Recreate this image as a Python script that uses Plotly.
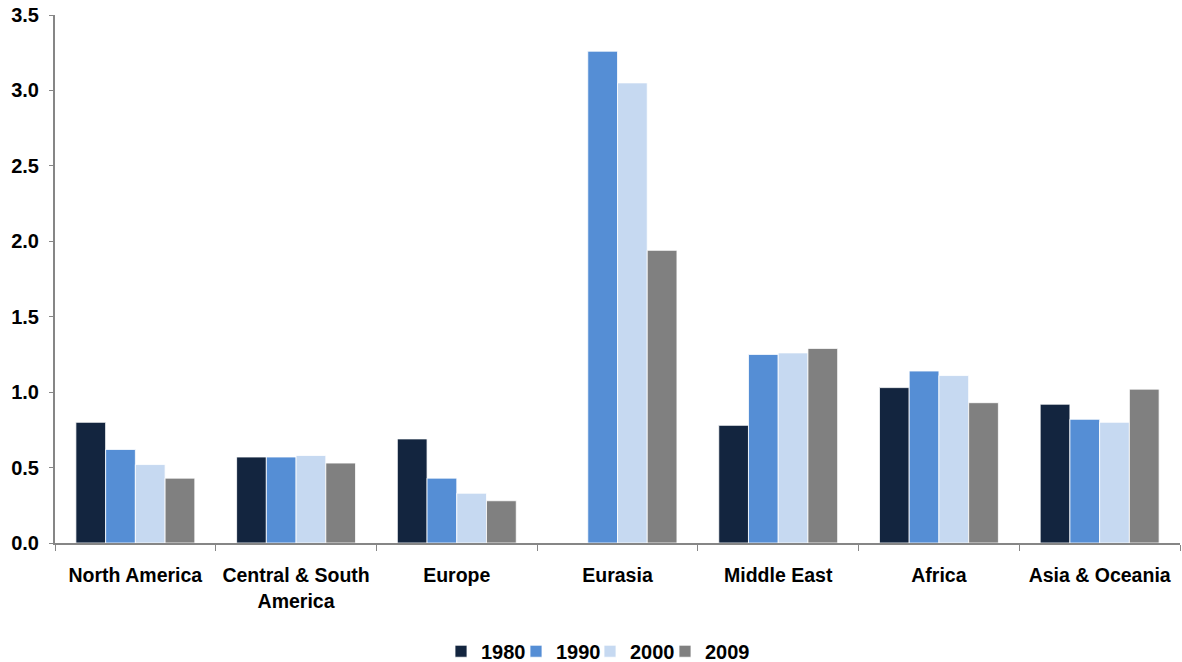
import plotly.graph_objects as go

categories = ["North America", "Central & South<br>America", "Europe", "Eurasia",
              "Middle East", "Africa", "Asia & Oceania"]
years = ["1980", "1990", "2000", "2009"]
v1980 = [0.80, 0.57, 0.69, 0.00, 0.78, 1.03, 0.92]
v1990 = [0.62, 0.57, 0.43, 3.26, 1.25, 1.14, 0.82]
v2000 = [0.52, 0.58, 0.33, 3.05, 1.26, 1.11, 0.80]
v2009 = [0.43, 0.53, 0.28, 1.94, 1.29, 0.93, 1.02]
colors = ["#13253F", "#558ED5", "#C6D9F1", "#808080"]

font_fam = "Liberation Sans, Arial, sans-serif"
legend_ids = ["legend", "legend2", "legend3", "legend4"]
legend_x_px = [441, 516, 590, 665]

fig = go.Figure()
for name, vals, c, lid in zip(years, [v1980, v1990, v2000, v2009], colors, legend_ids):
    fig.add_trace(go.Bar(x=categories, y=vals, name=name, marker_color=c,
                         marker_line_color="white", marker_line_width=0.8,
                         legend=lid))

layout_legends = {}
for lid, xp in zip(legend_ids, legend_x_px):
    layout_legends[lid] = dict(
        orientation="h", x=xp / 1182, xref="container", xanchor="left",
        y=-0.205, yref="paper", yanchor="middle",
        font=dict(family=font_fam, size=20, color="black", weight="bold"),
        itemwidth=30, bgcolor="rgba(0,0,0,0)")

fig.update_layout(
    width=1182, height=662,
    margin=dict(l=55, r=2, t=15, b=119, autoexpand=False),
    paper_bgcolor="white", plot_bgcolor="white",
    barmode="group", bargap=0.26, bargroupgap=0,
    font=dict(family=font_fam, size=19, color="black"),
    showlegend=True,
    **layout_legends,
)
fig.update_xaxes(showline=True, linecolor="#868686", linewidth=2,
                 ticks="outside", tickson="boundaries", ticklen=6, tickcolor="#868686",
                 ticklabelstandoff=14, automargin=False,
                 tickfont=dict(family=font_fam, size=19.5, color="black", weight="bold"),
                 showgrid=False)
fig.update_yaxes(range=[0, 3.5], dtick=0.5, tickformat=".1f", showline=True,
                 linecolor="#868686", linewidth=2, ticks="outside", ticklen=4,
                 tickcolor="#868686", showgrid=False, zeroline=False,
                 ticklabelstandoff=6, automargin=False,
                 tickfont=dict(family=font_fam, size=20, color="black", weight="bold"))

fig.write_html("out.html")
